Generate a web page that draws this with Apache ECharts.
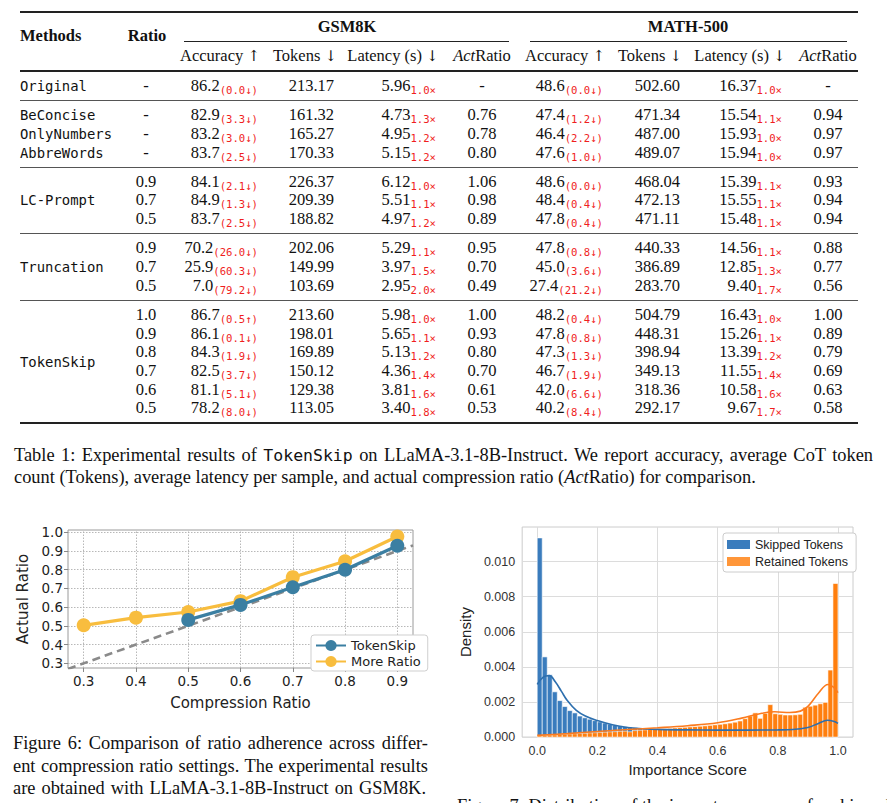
<!DOCTYPE html>
<html>
<head>
<meta charset="utf-8">
<script src="https://cdn.jsdelivr.net/npm/echarts@6.0.0/dist/echarts.min.js"></script>
<style>
html, body { margin: 0; padding: 0; background: #fff; }
#page { position: relative; width: 887px; height: 803px; overflow: hidden; font-family: "Liberation Serif", "Times New Roman", serif; color: #111; }
.t { position: absolute; white-space: nowrap; line-height: 18px; font-size: 16.5px; }
.b { font-weight: bold; }
.mono { font-family: "DejaVu Sans Mono", monospace; font-size: 13.9px; }
.d { font-family: "DejaVu Sans Mono", monospace; font-size: 10.6px; color: #f01e1e; position: relative; top: 3px; }
.arr { font-family: "DejaVu Serif", serif; font-size: 15px; }
.rule { position: absolute; background: #222; }
.cap { position: absolute; white-space: nowrap; font-size: 18.4px; line-height: 22px; }
.cap .mono { font-size: 16.5px; }
#fig6, #fig7 { position: absolute; }
</style>
</head>
<body>
<div id="page">
  <div id="fig6" style="left:0;top:515px;width:440px;height:200px;"></div>
  <div id="fig7" style="left:450px;top:520px;width:437px;height:262px;"></div>
</div>
<script>
// ---- Table 1 data ----
const methodNames = ['Original', 'BeConcise', 'OnlyNumbers', 'AbbreWords', 'LC-Prompt', 'Truncation', 'TokenSkip'];
const methodRows = [1, 1, 1, 1, 3, 3, 6];
const sectionSizes = [1, 3, 3, 3, 6];
const ratios = ['-', '-', '-', '-', '0.9', '0.7', '0.5', '0.9', '0.7', '0.5', '1.0', '0.9', '0.8', '0.7', '0.6', '0.5'];
const gsmAcc = ['86.2', '82.9', '83.2', '83.7', '84.1', '84.9', '83.7', '70.2', '25.9', '7.0', '86.7', '86.1', '84.3', '82.5', '81.1', '78.2'];
const gsmAccDrop = ['0.0↓', '3.3↓', '3.0↓', '2.5↓', '2.1↓', '1.3↓', '2.5↓', '26.0↓', '60.3↓', '79.2↓', '0.5↑', '0.1↓', '1.9↓', '3.7↓', '5.1↓', '8.0↓'];
const gsmTokens = ['213.17', '161.32', '165.27', '170.33', '226.37', '209.39', '188.82', '202.06', '149.99', '103.69', '213.60', '198.01', '169.89', '150.12', '129.38', '113.05'];
const gsmLatency = ['5.96', '4.73', '4.95', '5.15', '6.12', '5.51', '4.97', '5.29', '3.97', '2.95', '5.98', '5.65', '5.13', '4.36', '3.81', '3.40'];
const gsmSpeedup = ['1.0', '1.3', '1.2', '1.2', '1.0', '1.1', '1.2', '1.1', '1.5', '2.0', '1.0', '1.1', '1.2', '1.4', '1.6', '1.8'];
const gsmActRatio = ['-', '0.76', '0.78', '0.80', '1.06', '0.98', '0.89', '0.95', '0.70', '0.49', '1.00', '0.93', '0.80', '0.70', '0.61', '0.53'];
const mathAcc = ['48.6', '47.4', '46.4', '47.6', '48.6', '48.4', '47.8', '47.8', '45.0', '27.4', '48.2', '47.8', '47.3', '46.7', '42.0', '40.2'];
const mathAccDrop = ['0.0↓', '1.2↓', '2.2↓', '1.0↓', '0.0↓', '0.4↓', '0.4↓', '0.8↓', '3.6↓', '21.2↓', '0.4↓', '0.8↓', '1.3↓', '1.9↓', '6.6↓', '8.4↓'];
const mathTokens = ['502.60', '471.34', '487.00', '489.07', '468.04', '472.13', '471.11', '440.33', '386.89', '283.70', '504.79', '448.31', '398.94', '349.13', '318.36', '292.17'];
const mathLatency = ['16.37', '15.54', '15.93', '15.94', '15.39', '15.55', '15.48', '14.56', '12.85', '9.40', '16.43', '15.26', '13.39', '11.55', '10.58', '9.67'];
const mathSpeedup = ['1.0', '1.1', '1.0', '1.0', '1.1', '1.1', '1.1', '1.1', '1.3', '1.7', '1.0', '1.1', '1.2', '1.4', '1.6', '1.7'];
const mathActRatio = ['-', '0.94', '0.97', '0.97', '0.93', '0.94', '0.94', '0.88', '0.77', '0.56', '1.00', '0.89', '0.79', '0.69', '0.63', '0.58'];

// ---- Figure 6 data ----
const fig6TicksX = [0.3, 0.4, 0.5, 0.6, 0.7, 0.8, 0.9];
const fig6TicksY = [0.3, 0.4, 0.5, 0.6, 0.7, 0.8, 0.9, 1.0];
const tokenSkipX = [0.5, 0.6, 0.7, 0.8, 0.9];
const tokenSkipY = [0.532, 0.612, 0.706, 0.800, 0.928];
const moreRatioX = [0.3, 0.4, 0.5, 0.6, 0.7, 0.8, 0.9];
const moreRatioY = [0.503, 0.544, 0.574, 0.632, 0.760, 0.845, 0.977];
const idealX = [0.27, 0.93];   // y = x reference line
const idealY = [0.27, 0.93];

// ---- Figure 7 data (density in units of 1e-3, 60 bins over [0, 1]) ----
const fig7Bins = 60;
const fig7TicksX = [0.0, 0.2, 0.4, 0.6, 0.8, 1.0];
const fig7TicksY = [0, 2, 4, 6, 8, 10];
const skippedDensity = [11.35, 4.57, 3.55, 2.58, 2.08, 1.74, 1.51, 1.38, 1.20, 1.10,
  1.02, 0.94, 0.87, 0.80, 0.74, 0.69, 0.64, 0.60, 0.57, 0.54,
  0.52, 0.50, 0.48, 0.46, 0.45, 0.44, 0.43, 0.43, 0.42, 0.42,
  0.41, 0.41, 0.41, 0.40, 0.40, 0.40, 0.40, 0.40, 0.40, 0.40,
  0.40, 0.40, 0.40, 0.40, 0.41, 0.41, 0.42, 0.42, 0.43, 0.44,
  0.46, 0.49, 0.53, 0.60, 0.68, 0.78, 0.90, 1.05, 1.44, 2.43];
const retainedDensity = [0.08, 0.10, 0.12, 0.13, 0.15, 0.16, 0.18, 0.19, 0.21, 0.22,
  0.24, 0.25, 0.27, 0.28, 0.30, 0.31, 0.33, 0.34, 0.30, 0.37,
  0.39, 0.41, 0.43, 0.45, 0.47, 0.48, 0.50, 0.52, 0.54, 0.56,
  0.58, 0.60, 0.62, 0.64, 0.67, 0.70, 0.73, 0.76, 0.80, 0.85,
  0.92, 1.05, 1.20, 1.38, 1.07, 1.35, 1.85, 1.33, 1.30, 1.26,
  1.26, 1.27, 1.30, 1.70, 1.76, 1.82, 1.90, 1.98, 3.82, 8.75];
const skippedKdeX = [0, 0.02, 0.04, 0.06, 0.08, 0.10, 0.13, 0.16, 0.20, 0.25, 0.30, 0.35, 0.40, 0.50, 0.60, 0.70, 0.80, 0.85, 0.90, 0.935, 0.965, 0.985, 1.0];
const skippedKdeY = [3.00, 3.42, 3.50, 3.15, 2.62, 2.08, 1.52, 1.20, 0.94, 0.70, 0.55, 0.48, 0.44, 0.41, 0.40, 0.40, 0.41, 0.43, 0.55, 0.78, 0.96, 0.90, 0.78];
const retainedKdeX = [0, 0.10, 0.20, 0.30, 0.40, 0.50, 0.60, 0.68, 0.74, 0.79, 0.84, 0.875, 0.90, 0.935, 0.967, 0.985, 1.0];
const retainedKdeY = [0.10, 0.20, 0.32, 0.43, 0.53, 0.65, 0.82, 1.08, 1.33, 1.44, 1.40, 1.48, 1.75, 2.50, 3.00, 2.85, 2.53];

const page = document.getElementById('page');

function addText(html, x, y, align, cls) {
  const el = document.createElement('div');
  el.className = 't ' + (cls || '');
  el.innerHTML = html;
  el.style.top = (y - 9) + 'px';
  if (align === 'right') {
    el.style.right = (887 - x) + 'px';
  } else if (align === 'center') {
    el.style.left = (x - 80) + 'px';
    el.style.width = '160px';
    el.style.textAlign = 'center';
  } else {
    el.style.left = x + 'px';
  }
  page.appendChild(el);
  return el;
}

function addRule(x0, x1, y, h, color) {
  const el = document.createElement('div');
  el.className = 'rule';
  el.style.left = x0 + 'px';
  el.style.width = (x1 - x0) + 'px';
  el.style.top = (y - h / 2) + 'px';
  el.style.height = h + 'px';
  if (color) el.style.background = color;
  page.appendChild(el);
}

// ---- Table ----
addRule(20, 858, 12, 1.8);
addText('Methods', 20, 36, 'left', 'b');
addText('Ratio', 147, 36, 'center', 'b');
addText('GSM8K', 347, 27, 'center', 'b');
addText('MATH-500', 688, 27, 'center', 'b');
addRule(184, 509, 41, 1);
addRule(530, 847, 41, 1);
const subHeaders = ['Accuracy <span class="arr">↑</span>', 'Tokens <span class="arr">↓</span>', 'Latency (s) <span class="arr">↓</span>', '<i>Act</i>Ratio'];
[220, 305, 393, 482].forEach((x, i) => addText(subHeaders[i], x, 56, 'center'));
[565, 650, 740, 828].forEach((x, i) => addText(subHeaders[i], x, 56, 'center'));
addRule(20, 858, 71, 1.2);

const rowY = [];
let section = 0, inSection = 0;
ratios.forEach((r, i) => {
  rowY.push(86 + 18.72 * i + 10.4 * section);
  inSection++;
  if (inSection === sectionSizes[section]) {
    if (section < sectionSizes.length - 1) addRule(20, 858, 86 + 18.72 * i + 10.4 * section + 14.6, 1.3, '#555');
    section++;
    inSection = 0;
  }
});
addRule(20, 858, 423, 1.8);

let rowIdx = 0;
methodNames.forEach((m, k) => {
  const n = methodRows[k];
  const y = (rowY[rowIdx] + rowY[rowIdx + n - 1]) / 2;
  addText(m, 20, y, 'left', 'mono');
  rowIdx += n;
});

const sub = (v, s) => v + '<span class="d">' + s + '</span>';
ratios.forEach((r, i) => {
  const y = rowY[i];
  addText(r, 146, y, 'center');
  addText(sub(gsmAcc[i], '(' + gsmAccDrop[i] + ')'), 258, y, 'right');
  addText(gsmTokens[i], 334, y, 'right');
  addText(sub(gsmLatency[i], gsmSpeedup[i] + '×'), 436, y, 'right');
  addText(gsmActRatio[i], 482, y, 'center');
  addText(sub(mathAcc[i], '(' + mathAccDrop[i] + ')'), 603, y, 'right');
  addText(mathTokens[i], 680, y, 'right');
  addText(sub(mathLatency[i], mathSpeedup[i] + '×'), 782, y, 'right');
  addText(mathActRatio[i], 828, y, 'center');
});

// ---- Captions ----
function addCaption(html, x, y, width) {
  const el = document.createElement('div');
  el.className = 'cap';
  el.innerHTML = html;
  el.style.left = x + 'px';
  el.style.top = (y - 11) + 'px';
  page.appendChild(el);
  if (width) {
    const natural = el.getBoundingClientRect().width;
    const spaces = (el.textContent.match(/ /g) || []).length;
    el.style.wordSpacing = ((width - natural) / spaces) + 'px';
  }
  return el;
}
addCaption('Table 1: Experimental results of <span class="mono">TokenSkip</span> on LLaMA-3.1-8B-Instruct. We report accuracy, average CoT token', 14, 455, 859);
addCaption('count (Tokens), average latency per sample, and actual compression ratio (<i>Act</i>Ratio) for comparison.', 14, 477);
addCaption('Figure 6: Comparison of ratio adherence across differ-', 13, 743, 415);
addCaption('ent compression ratio settings. The experimental results', 13, 766, 415);
addCaption('are obtained with LLaMA-3.1-8B-Instruct on GSM8K.', 13, 788, 413);
addCaption('Figure 7: Distribution of the importance scores for skipped and', 457, 806);

// ---- Figure 6 ----
const chart6 = echarts.init(document.getElementById('fig6'), null, { renderer: 'svg' });
chart6.setOption({
  animation: false,
  textStyle: { fontFamily: 'DejaVu Sans' },
  grid: { left: 68, top: 15, width: 345, height: 146, show: true, borderColor: '#9a9a9a', borderWidth: 1 },
  legend: {
    data: ['TokenSkip', 'More Ratio'],
    orient: 'vertical',
    left: 311, top: 120,
    itemWidth: 30, itemHeight: 14, itemGap: 3,
    padding: [4, 7, 3, 4],
    backgroundColor: '#fff', borderColor: '#cfcfcf', borderWidth: 1, borderRadius: 3,
    textStyle: { fontSize: 13, color: '#222', fontFamily: 'DejaVu Sans' }
  },
  xAxis: {
    type: 'value', min: 0.27, max: 0.93,
    axisLine: { show: false },
    axisTick: { show: true, length: 4, customValues: fig6TicksX, lineStyle: { color: '#888' } },
    axisLabel: { customValues: fig6TicksX, formatter: v => v.toFixed(1), color: '#222', fontSize: 13.5, margin: 6 },
    splitLine: { show: false },
    name: 'Compression Ratio', nameLocation: 'middle', nameGap: 27,
    nameTextStyle: { fontSize: 15, color: '#222' }
  },
  yAxis: {
    type: 'value', min: 0.275, max: 1.012,
    axisLine: { show: false },
    axisTick: { show: true, length: 4, customValues: fig6TicksY, lineStyle: { color: '#888' } },
    axisLabel: { customValues: fig6TicksY, formatter: v => v.toFixed(1), color: '#222', fontSize: 13.5, margin: 5 },
    splitLine: { show: false },
    name: 'Actual Ratio', nameLocation: 'middle', nameGap: 38,
    nameTextStyle: { fontSize: 15, color: '#222' }
  },
  series: [
    {
      name: 'ideal', type: 'line', z: 2,
      data: idealX.map((x, i) => [x, idealY[i]]),
      symbol: 'none', silent: true,
      lineStyle: { color: '#8a8a8a', width: 2.6, type: [8, 5] },
      markLine: {
        z: 1, silent: true, symbol: 'none', label: { show: false },
        lineStyle: { color: '#b0b0b0', width: 0.9, type: [1.5, 1.5] },
        data: fig6TicksX.map(v => ({ xAxis: v })).concat(fig6TicksY.map(v => ({ yAxis: v })))
      }
    },
    {
      name: 'More Ratio', type: 'line', z: 3,
      data: moreRatioX.map((x, i) => [x, moreRatioY[i]]),
      symbol: 'circle', symbolSize: 14,
      lineStyle: { color: '#f8bd3e', width: 3.2 },
      itemStyle: { color: '#f8bd3e' }
    },
    {
      name: 'TokenSkip', type: 'line', z: 4,
      data: tokenSkipX.map((x, i) => [x, tokenSkipY[i]]),
      symbol: 'circle', symbolSize: 14,
      lineStyle: { color: '#3b7fa2', width: 3.2 },
      itemStyle: { color: '#3b7fa2' }
    }
  ]
});

// ---- Figure 7 ----
function binItems(values) {
  return values.map((v, i) => [i / fig7Bins, (i + 1) / fig7Bins, v]);
}
function renderBin(params, api) {
  const top = api.coord([api.value(0), api.value(2)]);
  const base = api.coord([api.value(1), 0]);
  return {
    type: 'rect',
    shape: { x: top[0], y: top[1], width: base[0] - top[0], height: base[1] - top[1] },
    style: { fill: api.visual('color'), stroke: '#ffffff', lineWidth: 0.6, opacity: api.visual('opacity') }
  };
}
const chart7 = echarts.init(document.getElementById('fig7'), null, { renderer: 'svg' });
chart7.setOption({
  animation: false,
  textStyle: { fontFamily: 'Liberation Sans' },
  grid: { left: 69, top: 7, width: 334, height: 216, show: true, borderColor: '#cccccc', borderWidth: 1 },
  legend: {
    data: ['Skipped Tokens', 'Retained Tokens'],
    orient: 'vertical',
    left: 273, top: 13,
    icon: 'rect', itemWidth: 23, itemHeight: 9, itemGap: 4,
    padding: [5, 8, 4, 4],
    backgroundColor: '#fff', borderColor: '#cccccc', borderWidth: 1, borderRadius: 3,
    textStyle: { fontSize: 12.5, color: '#222', fontFamily: 'Liberation Sans' }
  },
  xAxis: {
    type: 'value', min: -0.05, max: 1.05,
    axisLine: { show: false }, axisTick: { show: false },
    axisLabel: { customValues: fig7TicksX, formatter: v => v.toFixed(1), color: '#333', fontSize: 12.5, margin: 7 },
    splitLine: { show: false },
    name: 'Importance Score', nameLocation: 'middle', nameGap: 22,
    nameTextStyle: { fontSize: 15, color: '#222' }
  },
  yAxis: {
    type: 'value', min: 0, max: 11.97,
    axisLine: { show: false }, axisTick: { show: false },
    axisLabel: { customValues: fig7TicksY, formatter: v => (v / 1000).toFixed(3), color: '#333', fontSize: 12.5, margin: 7 },
    splitLine: { show: false },
    name: 'Density', nameLocation: 'middle', nameGap: 46,
    nameTextStyle: { fontSize: 15, color: '#222' }
  },
  series: [
    {
      name: 'Skipped Tokens', type: 'custom', z: 2,
      renderItem: renderBin, data: binItems(skippedDensity),
      itemStyle: { color: '#3a7cbd', opacity: 1 },
      markLine: {
        z: 1, silent: true, symbol: 'none', label: { show: false },
        lineStyle: { color: '#dcdcdc', width: 1, type: 'solid' },
        data: fig7TicksX.map(v => ({ xAxis: v })).concat(fig7TicksY.map(v => ({ yAxis: v })))
      }
    },
    {
      name: 'Retained Tokens', type: 'custom', z: 3,
      renderItem: renderBin, data: binItems(retainedDensity),
      itemStyle: { color: '#ff7f0e', opacity: 0.82 }
    },
    {
      name: 'skipped kde', type: 'line', z: 4, smooth: 0.4, symbol: 'none', silent: true,
      data: skippedKdeX.map((x, i) => [x, skippedKdeY[i]]),
      lineStyle: { color: '#2d6fae', width: 1.6 }
    },
    {
      name: 'retained kde', type: 'line', z: 4, smooth: 0.4, symbol: 'none', silent: true,
      data: retainedKdeX.map((x, i) => [x, retainedKdeY[i]]),
      lineStyle: { color: '#fb7b1f', width: 1.6 }
    }
  ]
});
</script>
</body>
</html>
